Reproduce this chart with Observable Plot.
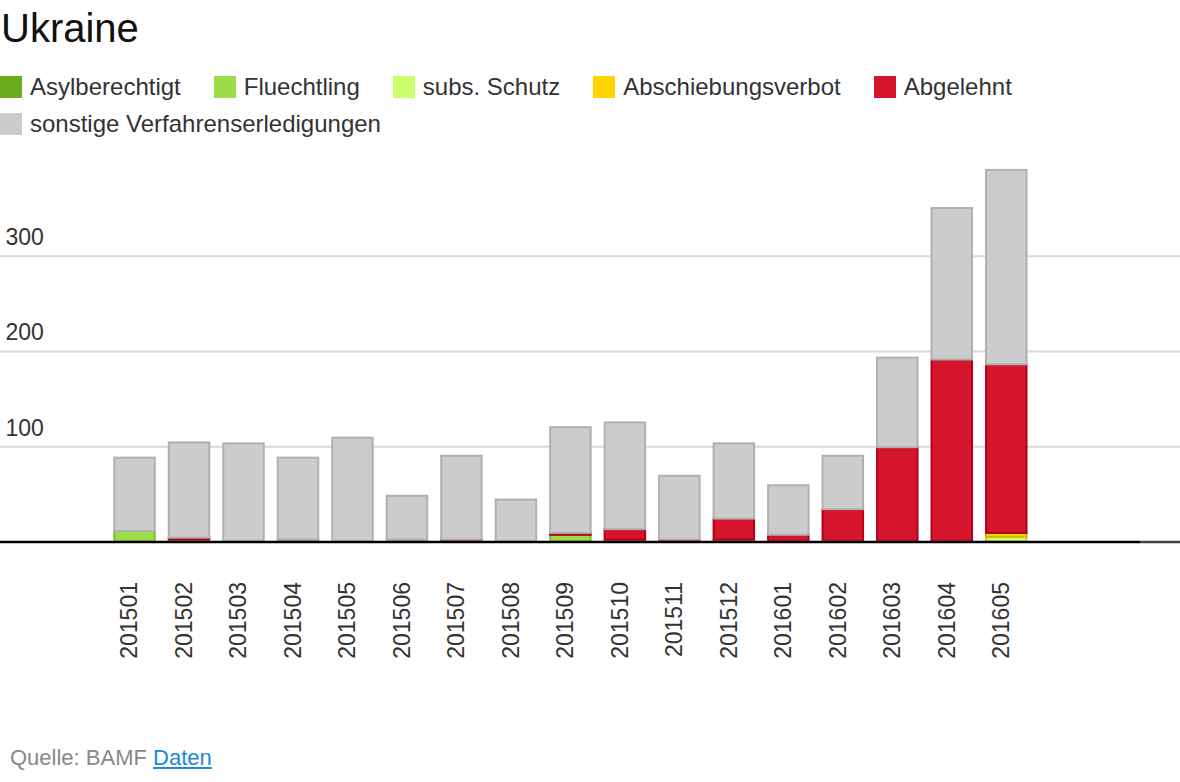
<!DOCTYPE html>
<html>
<head>
<meta charset="utf-8">
<script src="https://cdn.jsdelivr.net/npm/d3@7"></script>
<script src="https://cdn.jsdelivr.net/npm/@observablehq/plot@0.6"></script>
<style>
  html, body { margin: 0; padding: 0; background: #fff; }
  body { width: 1180px; height: 782px; position: relative; overflow: hidden;
         font-family: "Liberation Sans", Arial, Helvetica, sans-serif; }
  #title { position: absolute; left: 1px; top: 8px; font-size: 40px; line-height: 1; color: #111; }
  #legend { position: absolute; left: 0; top: 68px; width: 1180px; display: flex; flex-wrap: wrap;
            font-size: 24px; line-height: 1; color: #333; }
  .item { display: flex; align-items: center; margin-right: 33px; height: 37px; }
  .sw { width: 22px; height: 22px; margin-right: 8px; }
  #chart { position: absolute; left: 0; top: 150px; }
  #caption { position: absolute; left: 10px; top: 747px; font-size: 22px; line-height: 1; color: #888; }
  #caption a { color: #1a8ad4; text-decoration: underline; }
</style>
</head>
<body>
<div id="title">Ukraine</div>
<div id="legend"></div>
<div id="chart"></div>
<div id="caption">Quelle: BAMF <a href="#">Daten</a></div>
<script>
const months = ["201501","201502","201503","201504","201505","201506","201507","201508","201509","201510","201511","201512","201601","201602","201603","201604","201605"];
const categories = ["Asylberechtigt","Fluechtling","subs. Schutz","Abschiebungsverbot","Abgelehnt","sonstige Verfahrenserledigungen"];
const colors = ["#6aad1c","#9cdc46","#ccff6e","#ffd400","#d5152c","#cccccc"];
const asylberechtigt     = [0,0,0,0,0,0,0,0,0,0,0,0,0,0,0,0,0];
const fluechtling        = [11,2,0,2,0,2,0,0,7,2,0,2,0,0,0,0,0];
const subsSchutz         = [0,0,0,0,0,0,0,0,0,0,0,0,0,0,0,0,5];
const abschiebungsverbot = [0,0,0,0,0,0,0,0,0,0,0,0,0,0,0,0,4];
const abgelehnt          = [0,2,0,0,0,0,2,0,2,11,2,22,7,34,99,191,177];
const sonstige           = [77,100,103,86,109,46,88,44,111,112,67,79,52,56,94,159,204];
const yTicks = [100, 200, 300];

const series = [asylberechtigt, fluechtling, subsSchutz, abschiebungsverbot, abgelehnt, sonstige];
const data = [];
months.forEach((m, i) => {
  series.forEach((s, j) => {
    if (s[i] > 0) data.push({month: m, cat: categories[j], value: s[i]});
  });
});
const strokeOf = Object.fromEntries(categories.map((c, j) => [c, d3.color(colors[j]).darker(0.45).formatHex()]));
strokeOf["sonstige Verfahrenserledigungen"] = "#b0b0b0";
strokeOf["Abgelehnt"] = "#b3001c";

// legend
const legend = document.getElementById("legend");
categories.forEach((c, j) => {
  const it = document.createElement("div");
  it.className = "item";
  it.innerHTML = `<span class="sw" style="background:${colors[j]}"></span><span>${c}</span>`;
  legend.appendChild(it);
});

const chart = Plot.plot({
  width: 1180,
  height: 560,
  marginLeft: 0, marginRight: 0, marginTop: 0, marginBottom: 0,
  style: {fontFamily: "'Liberation Sans', Arial, Helvetica, sans-serif", fontSize: "23px", color: "#333", background: "#fff"},
  x: {domain: months, range: [101.3, 1039.5], padding: 0.22, round: false, label: null, axis: null},
  y: {domain: [0, 400], range: [391.5, 10.4], label: null, axis: null},
  color: {domain: categories, range: colors},
  marks: [
    Plot.ruleY(yTicks, {stroke: "#d8d8d8", strokeWidth: 2}),
    Plot.text(yTicks, {y: d => d, text: d => String(d), frameAnchor: "left", textAnchor: "start", lineAnchor: "bottom", dx: 5, dy: -11, fill: "#333", fontSize: 23}),
    Plot.barY(data, Plot.stackY({
      x: "month", y: "value", fill: "cat", order: categories,
      stroke: d => strokeOf[d.cat], strokeWidth: 2, insetLeft: 1, insetRight: 1
    })),
    Plot.ruleY([0], {stroke: "#000", strokeWidth: 2.5, insetRight: 40}),
    Plot.ruleY([0], {stroke: "#444", strokeWidth: 2.5, insetLeft: 1140}),
    Plot.text(months, {x: d => d, y: () => 0, text: d => d, rotate: -90, textAnchor: "end", lineAnchor: "middle", dx: -5, dy: 40, fill: "#333", fontSize: 23})
  ]
});
document.getElementById("chart").appendChild(chart);
</script>
</body>
</html>
